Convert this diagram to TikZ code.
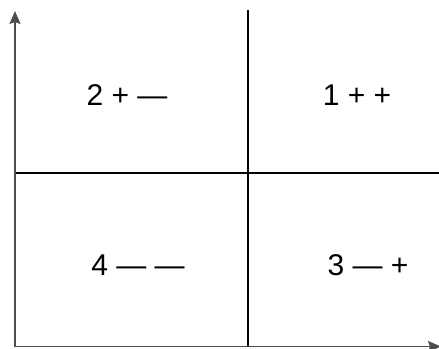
\documentclass[tikz,border=0pt]{standalone}
\usepackage{fontspec}
\setmainfont{Liberation Sans}
\usetikzlibrary{positioning, arrows.meta}

\begin{document}
\begin{tikzpicture}[
    x=1pt, y=-1pt,
    quad/.style={font=\fontsize{30}{36}\selectfont, inner sep=0pt},
    axis/.style={-{Stealth[length=13pt, width=11pt, inset=2pt]}, line width=1.5pt, draw=black!70},
    divide/.style={line width=1.3pt, draw=black}
]
    \useasboundingbox (0,0) rectangle (439,348);

    \coordinate (origin) at (15,346.5);
    \coordinate (ytop) at (15,11);
    \coordinate (xend) at (441,346.5);
    \coordinate (midtop) at (248,10);
    \coordinate (midbot) at (248,346.5);
    \coordinate (left) at (15,173);
    \coordinate (right) at (439,173);

    \draw[divide] (midtop) -- (midbot);
    \draw[divide] (left) -- (right);
    \draw[axis] (origin) -- (ytop);
    \draw[axis] (origin) -- (xend);

    \node[quad] (q2) at (127,95) {2 + —};
    \node[quad] (q1) at (357,95) {1 + +};
    \node[quad] (q4) at (138,265) {4 — —};
    \node[quad] (q3) at (368,265) {3 — +};
\end{tikzpicture}
\end{document}
